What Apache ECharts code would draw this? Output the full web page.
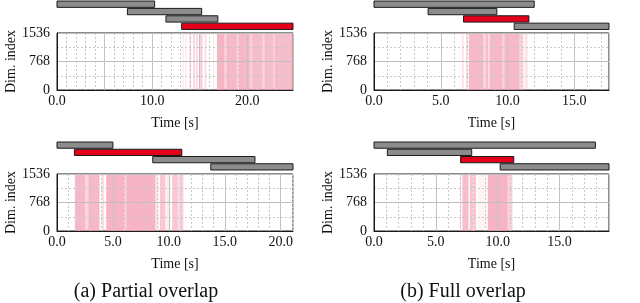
<!DOCTYPE html>
<html><head><meta charset="utf-8">
<script src="https://cdn.jsdelivr.net/npm/echarts@6/dist/echarts.min.js"></script>
<style>html,body{margin:0;padding:0;background:#fff}#c{width:640px;height:303px}</style>
</head><body><div id="c"></div>
<script>
// ---------- data ----------
const yTickValues = [0, 768, 1536];
const captions = ['(a) Partial overlap', '(b) Full overlap'];
const xAxisTitle = 'Time [s]';
const yAxisTitle = 'Dim. index';

// time ranges (s)
const p1Range = 24.8, p2Range = 17.6, p3Range = 21.1, p4Range = 19.0;
// label step for each panel
const p1Step = 10, p2Step = 5, p3Step = 5, p4Step = 5;

// job bars [start, end] (s), one per row
const p1Jobs = [[0, 10.26], [7.4, 15.2], [11.45, 16.9], [13.1, 24.8]];
const p2Jobs = [[0, 12.0], [4.05, 9.2], [6.7, 11.6], [10.5, 17.6]];
const p3Jobs = [[0, 5.0], [1.56, 11.16], [8.56, 17.7], [13.75, 21.1]];
const p4Jobs = [[0, 17.9], [1.08, 7.9], [7.0, 11.3], [10.2, 19.0]];
// highlighted (observed) job row
const p1Red = 3, p2Red = 2, p3Red = 1, p4Red = 2;

// activity bands [start, end, density]
const p1Activity = [[13.2,13.3,0.3],[13.5,13.6,0.35],[13.9,14.1,0.4],[14.3,14.5,0.45],[14.6,14.8,0.4],[15.0,15.3,0.5],[15.5,15.7,0.35],[16.4,16.5,0.25],
  [16.8,17.6,0.8],[17.6,17.8,0.5],[17.8,18.9,0.75],[18.9,19.1,0.45],[19.1,20.3,0.75],[20.3,20.5,0.5],[20.5,21.6,0.7],[21.6,21.8,0.45],[21.8,22.7,0.7],[22.7,22.9,0.5],[22.9,24.8,0.7]];
const p2Activity = [[6.6,6.7,0.4],[6.9,7.0,0.5],[7.1,8.2,0.75],[8.2,8.35,0.4],[8.35,8.55,0.7],[8.55,8.65,0.3],[8.65,9.6,0.75],[9.6,9.75,0.5],[9.75,10.9,0.75],[10.9,11.2,0.45],[11.3,11.5,0.3]];
const p3Activity = [[1.6,2.5,0.75],[2.5,2.8,0.45],[2.8,3.8,0.75],[4.0,4.2,0.35],[4.4,6.0,0.8],[6.0,6.2,0.5],[6.2,8.8,0.8],[8.8,9.1,0.25],[9.2,9.7,0.6],[9.8,10.0,0.25],[10.3,10.8,0.6],[10.8,11.0,0.35],[11.0,11.3,0.55]];
const p4Activity = [[6.95,7.05,0.5],[7.15,7.6,0.7],[7.6,7.7,0.35],[7.75,8.0,0.65],[8.05,8.25,0.6],[8.4,9.1,0.12],[9.2,10.8,0.8],[10.8,11.2,0.5]];

// ---------- layout ----------
const FONT = 'Liberation Serif';
const panels = [
  {range:p1Range, step:p1Step, jobs:p1Jobs, red:p1Red, act:p1Activity, left:57, width:236, top:33, height:57, gTop:0.5, gH:29.5},
  {range:p2Range, step:p2Step, jobs:p2Jobs, red:p2Red, act:p2Activity, left:374, width:235, top:33, height:57, gTop:0.5, gH:29.5},
  {range:p3Range, step:p3Step, jobs:p3Jobs, red:p3Red, act:p3Activity, left:57, width:236, top:174, height:57, gTop:141.5, gH:29},
  {range:p4Range, step:p4Step, jobs:p4Jobs, red:p4Red, act:p4Activity, left:374, width:235, top:174, height:57, gTop:141.5, gH:29}
];

const grid = [], xAxis = [], yAxis = [], series = [];
function ganttItem(params, api) {
  const s = api.value(0), e = api.value(1), row = api.value(2), hl = api.value(3);
  const a = api.coord([s, row]), b = api.coord([e, row]);
  const h = api.size([0, 1])[1] * 0.86;
  return {type:'rect', shape:{x:a[0], y:a[1]-h/2, width:b[0]-a[0], height:h},
    style:{fill: hl ? '#e3001b' : '#8c8c8c', stroke:'#1b1b1b', lineWidth:1}};
}
function rasterItem(params, api) {
  const a = api.coord([api.value(0), yTickValues[2]]), b = api.coord([api.value(1), yTickValues[0]]);
  return {type:'rect', shape:{x:a[0], y:a[1], width:Math.max(b[0]-a[0], 1), height:b[1]-a[1]},
    style:{fill:'#f397ad', opacity: api.value(2) * 0.9}};
}
panels.forEach((p, i) => {
  const gG = grid.length;
  grid.push({left:p.left, width:p.width, top:p.gTop, height:p.gH, show:false});
  const gR = grid.length;
  grid.push({left:p.left, width:p.width, top:p.top, height:p.height, show:true, borderColor:'#1b1b1b', borderWidth:1, backgroundColor:'transparent'});
  const xg = xAxis.length;
  xAxis.push({type:'value', gridIndex:gG, min:0, max:p.range, show:false});
  const yg = yAxis.length;
  yAxis.push({type:'value', gridIndex:gG, min:-0.5, max:3.5, inverse:true, show:false});
  const xr = xAxis.length;
  xAxis.push({type:'value', gridIndex:gR, min:0, max:p.range, interval:5,
    name:xAxisTitle, nameLocation:'middle', nameGap:26,
    nameTextStyle:{fontFamily:FONT, fontSize:14, color:'#111'},
    axisLine:{show:true, lineStyle:{color:'#1b1b1b'}}, axisTick:{show:false},
    axisLabel:{fontFamily:FONT, fontSize:14, color:'#111', margin:4, showMaxLabel:false,
      formatter: v => (Math.abs(v/p.step - Math.round(v/p.step)) < 1e-6 && v < p.range - 0.3) ? v.toFixed(1) : ''},
    splitLine:{show:true, lineStyle:{color:'#bdbdbd', width:1}}, z:3});
  xAxis.push({type:'value', gridIndex:gR, min:0, max:p.range, interval:1, position:'bottom',
    axisLine:{show:false}, axisTick:{show:false}, axisLabel:{show:false},
    splitLine:{show:true, lineStyle:{color:'#c8c8c8', width:1, type:[2,2]}}, z:3});
  const yr = yAxis.length;
  yAxis.push({type:'value', gridIndex:gR, min:yTickValues[0], max:yTickValues[2], interval:yTickValues[1],
    name:yAxisTitle, nameLocation:'middle', nameGap:36, nameRotate:90,
    nameTextStyle:{fontFamily:FONT, fontSize:14, color:'#111'},
    axisLine:{show:true, lineStyle:{color:'#1b1b1b'}}, axisTick:{show:false},
    axisLabel:{fontFamily:FONT, fontSize:14, color:'#111', margin:7, formatter: v => String(v)},
    splitLine:{show:true, lineStyle:{color:'#bdbdbd', width:1}},
    minorTick:{show:false, splitNumber:2},
    minorSplitLine:{show:true, lineStyle:{color:'#c8c8c8', width:1, type:[2,2]}}, z:3});
  series.push({type:'custom', xAxisIndex:xg, yAxisIndex:yg, renderItem:ganttItem, silent:true,
    encode:{x:[0,1], y:2},
    data:p.jobs.map((j, r) => [j[0], j[1], r, r === p.red ? 1 : 0])});
  series.push({type:'custom', xAxisIndex:xr, yAxisIndex:yr, renderItem:rasterItem, silent:true, z:1,
    encode:{x:[0,1], y:[]}, clip:true,
    data:p.act.map(a => [a[0], a[1], a[2]])});
});

const chart = echarts.init(document.getElementById('c'), null, {renderer:'canvas'});
chart.setOption({
  animation:false,
  grid, xAxis, yAxis, series,
  graphic:[
    {type:'text', x:146, y:292, style:{text:captions[0], font:'20px "Liberation Serif"', fill:'#111', textAlign:'center', textVerticalAlign:'middle'}},
    {type:'text', x:463, y:292, style:{text:captions[1], font:'20px "Liberation Serif"', fill:'#111', textAlign:'center', textVerticalAlign:'middle'}}
  ]
});
</script></body></html>
